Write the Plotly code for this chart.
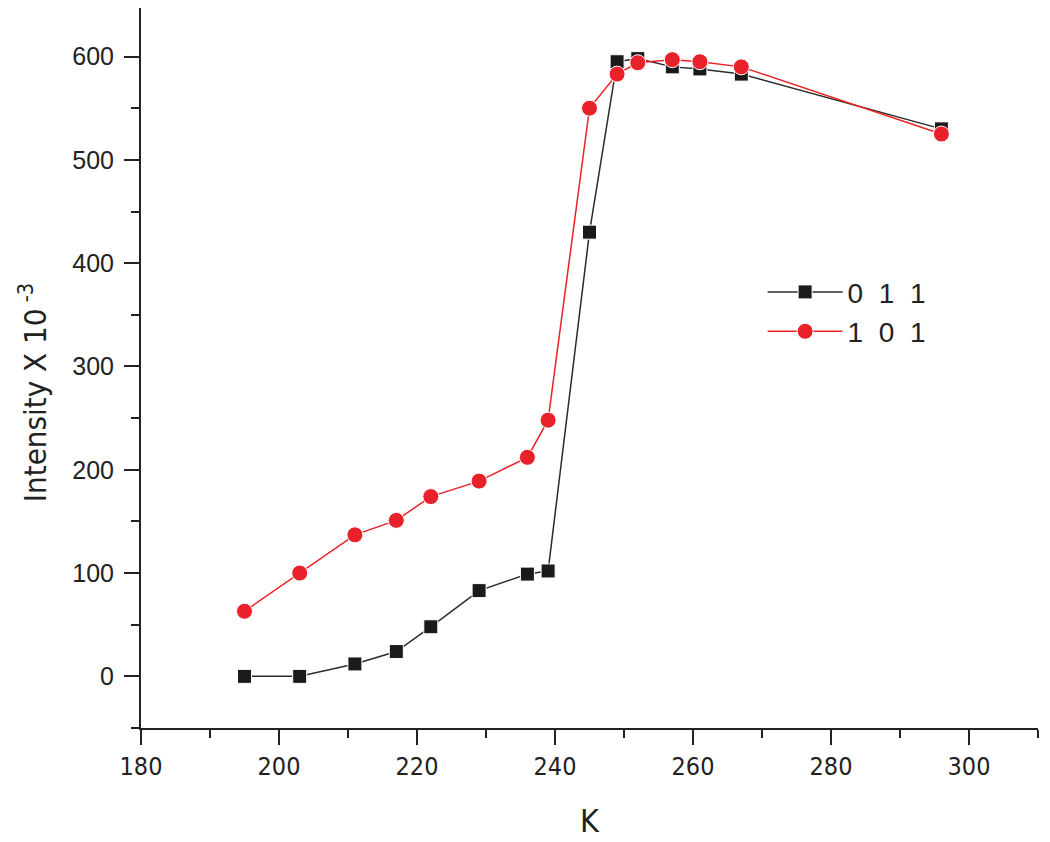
import plotly.graph_objects as go

temp_k = [195, 203, 211, 217, 222, 229, 236, 239, 245, 249, 252, 257, 261, 267, 296]
int_011 = [0, 0, 12, 24, 48, 83, 99, 102, 430, 595, 598, 590, 588, 583, 530]
int_101 = [63, 100, 137, 151, 174, 189, 212, 248, 550, 583, 594, 597, 595, 590, 525]

narrow = "DejaVu Sans Condensed, Liberation Sans Narrow, Arial Narrow, sans-serif"
regular = "Liberation Sans, Arial, Helvetica, sans-serif"

fig = go.Figure()
fig.add_trace(go.Scatter(x=temp_k, y=int_011, name="0\u00a0\u00a01\u00a0\u00a01", mode="lines+markers",
                         line=dict(color="#2b2b2b", width=1.5),
                         marker=dict(symbol="square", size=14, color="#1a1a1a",
                                     line=dict(color="white", width=1))))
fig.add_trace(go.Scatter(x=temp_k, y=int_101, name="1\u00a0\u00a00\u00a0\u00a01", mode="lines+markers",
                         line=dict(color="#ec2127", width=1.5),
                         marker=dict(symbol="circle", size=16, color="#e8212a",
                                     line=dict(color="white", width=1))))

axis_style = dict(showline=True, linecolor="#222", linewidth=2, ticks="outside",
                  ticklen=15, tickwidth=2, tickcolor="#222", showgrid=False,
                  zeroline=False, mirror=False, automargin=False)

fig.update_xaxes(range=[180, 310], dtick=20, tick0=180,
                 minor=dict(dtick=10, ticks="outside", ticklen=8, tickwidth=2, tickcolor="#222"),
                 tickfont=dict(family=narrow, size=25, color="#222"),
                 title=dict(text="K", font=dict(family=narrow, size=32, color="#222"),
                            standoff=30),
                 **axis_style)
fig.update_yaxes(range=[-50, 647], dtick=100, tick0=0,
                 minor=dict(dtick=50, ticks="outside", ticklen=8, tickwidth=2, tickcolor="#222"),
                 tickfont=dict(family=regular, size=25, color="#222"),
                 ticklabelstandoff=5,
                 **axis_style)

# y title as annotation so it can sit a little below the middle, like the original
fig.add_annotation(text="Intensity X 10<sup> -3</sup>", textangle=-90,
                   xref="paper", yref="paper", x=0, y=0.465, xshift=-108,
                   xanchor="center", yanchor="middle", showarrow=False,
                   font=dict(family=narrow, size=31, color="#222"))

fig.update_layout(width=1050, height=842, plot_bgcolor="white", paper_bgcolor="white",
                  margin=dict(l=133, r=20, t=0, b=122),
                  legend=dict(x=0.693, y=0.64, xanchor="left", yanchor="top",
                              font=dict(family=regular, size=28, color="#222"),
                              bgcolor="rgba(0,0,0,0)", itemwidth=75, tracegroupgap=4))

fig.write_html("out.html")
